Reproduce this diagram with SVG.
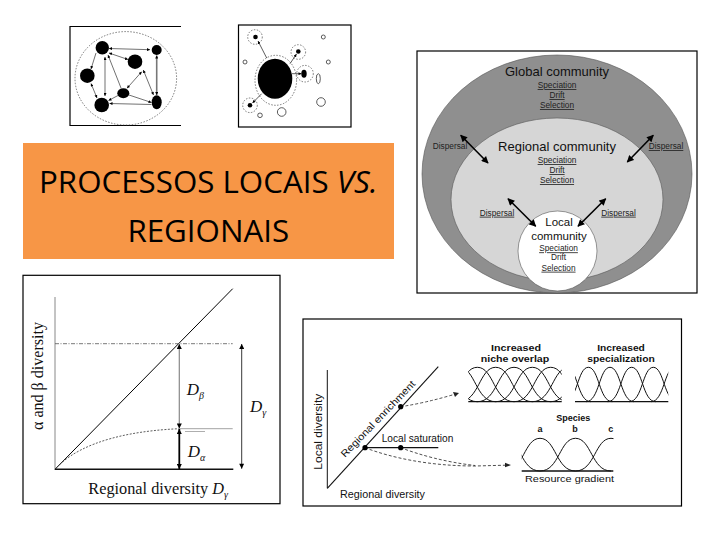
<svg xmlns="http://www.w3.org/2000/svg" width="720" height="540" viewBox="0 0 720 540">
<style>
.frame{fill:none;stroke:#000;stroke-width:1.2}
.thin{fill:none;stroke:#333;stroke-width:0.7}
.dash{fill:none;stroke:#444;stroke-width:0.7;stroke-dasharray:1.5 1.5}
.blob{fill:#000}
.open{fill:#fff;stroke:#333;stroke-width:0.8}
.sans{font-family:"Liberation Sans",Arial,sans-serif}
.serif{font-family:"Liberation Serif","Times New Roman",serif}
.lbl{font-family:"Liberation Sans",Arial,sans-serif;font-size:8.3px;fill:#222;text-anchor:middle}
.u{text-decoration:underline}
.hd{font-family:"Liberation Sans",Arial,sans-serif;font-size:13px;fill:#111;text-anchor:middle}
.dbl{stroke:#000;stroke-width:1.6;fill:none;marker-start:url(#mBig);marker-end:url(#mBig)}
.hump{fill:none;stroke:#111;stroke-width:1}
.pl{font-family:"Liberation Sans",Arial,sans-serif;font-size:9px;font-weight:bold;fill:#111;text-anchor:middle}
</style>
<defs>
<marker id="mBig" viewBox="0 0 10 10" refX="9" refY="5" markerWidth="8" markerHeight="7" markerUnits="userSpaceOnUse" orient="auto-start-reverse"><path d="M0,0 L10,5 L0,10 z" fill="#000"/></marker>
<marker id="mMid" viewBox="0 0 10 10" refX="10" refY="5" markerWidth="6" markerHeight="5" markerUnits="userSpaceOnUse" orient="auto-start-reverse"><path d="M0,0 L10,5 L0,10 z" fill="#000"/></marker>
<marker id="mSm" viewBox="0 0 10 10" refX="10" refY="5" markerWidth="3.5" markerHeight="3" markerUnits="userSpaceOnUse" orient="auto-start-reverse"><path d="M0,0 L10,5 L0,10 z" fill="#000"/></marker>
<clipPath id="c1"><rect x="468.3" y="360" width="93.4" height="45"/></clipPath>
<clipPath id="c2"><rect x="575" y="360" width="93.3" height="45"/></clipPath>
<clipPath id="c3"><rect x="521.7" y="430" width="91.8" height="45"/></clipPath>
</defs>
<rect width="720" height="540" fill="#fff"/>

<!-- Image 1: network -->
<g id="img-network">
<path class="frame" d="M181,26.5 H70 V125.5 H181"/>
<ellipse class="dash" cx="125.8" cy="78.3" rx="50.8" ry="46.7"/>
<g stroke="#333" stroke-width="0.7" fill="none">
<line x1="109" y1="48.5" x2="150" y2="49.7" marker-start="url(#mSm)" marker-end="url(#mSm)"/>
<line x1="96" y1="53" x2="91" y2="69" marker-end="url(#mSm)"/>
<line x1="105" y1="57" x2="105" y2="96" marker-start="url(#mSm)" marker-end="url(#mSm)"/>
<line x1="109" y1="53" x2="128" y2="59.5" marker-start="url(#mSm)" marker-end="url(#mSm)"/>
<line x1="108" y1="55" x2="121" y2="88" marker-start="url(#mSm)"/>
<line x1="141.7" y1="71.7" x2="127" y2="88.3" marker-start="url(#mSm)" marker-end="url(#mSm)"/>
<line x1="143.3" y1="70" x2="153.5" y2="95" marker-start="url(#mSm)" marker-end="url(#mSm)"/>
<line x1="129" y1="95" x2="151.5" y2="102.5" marker-end="url(#mSm)"/>
<line x1="151.5" y1="104.5" x2="109.5" y2="103.5" marker-end="url(#mSm)"/>
<line x1="91" y1="83.5" x2="97" y2="98" marker-start="url(#mSm)" marker-end="url(#mSm)"/>
<line x1="118" y1="95.5" x2="108.5" y2="100.5" marker-end="url(#mSm)"/>
</g>
<line x1="156.7" y1="55.5" x2="156.7" y2="95" stroke="#777" stroke-width="1.6" marker-start="url(#mSm)" marker-end="url(#mSm)"/>
<circle class="blob" cx="102.3" cy="47.7" r="6.7"/>
<circle class="blob" cx="156.7" cy="50" r="5"/>
<circle class="blob" cx="135" cy="61.7" r="7.3"/>
<circle class="blob" cx="87.3" cy="75.7" r="7.3"/>
<ellipse class="blob" cx="123.3" cy="93.3" rx="6" ry="5"/>
<circle class="blob" cx="101.7" cy="105" r="7.3"/>
<ellipse class="blob" cx="156.7" cy="102.3" rx="5" ry="7"/>
</g>

<!-- Image 2: mainland/islands -->
<g id="img-islands">
<rect class="frame" x="238.5" y="25" width="112.5" height="102"/>
<ellipse class="dash" cx="275.8" cy="80.3" rx="20.8" ry="25"/>
<ellipse class="blob" cx="275" cy="78.7" rx="17.3" ry="20"/>
<circle class="dash" cx="255" cy="37" r="7.3"/>
<circle class="blob" cx="255.5" cy="37" r="2.3"/>
<circle class="dash" cx="298.3" cy="52" r="7.3"/>
<circle class="blob" cx="298.3" cy="51.5" r="2.3"/>
<circle class="dash" cx="305" cy="73.7" r="8.3"/>
<ellipse class="blob" cx="304" cy="73.7" rx="2.7" ry="4"/>
<circle class="dash" cx="250" cy="105.3" r="7.3"/>
<circle class="blob" cx="250" cy="105.3" r="2.3"/>
<g stroke="#333" stroke-width="0.8">
<line x1="266.7" y1="58" x2="258" y2="41" marker-end="url(#mSm)"/>
<line x1="290" y1="63.7" x2="296.5" y2="54" marker-end="url(#mSm)"/>
<line x1="292" y1="73.7" x2="301.5" y2="73.7" marker-end="url(#mSm)"/>
<line x1="261.7" y1="93.7" x2="252.5" y2="103" marker-end="url(#mSm)"/>
</g>
<circle class="open" cx="323.3" cy="37" r="2"/>
<circle class="open" cx="245" cy="62" r="2"/>
<circle class="open" cx="328.3" cy="62" r="2"/>
<ellipse class="open" cx="318.3" cy="78.7" rx="2" ry="5"/>
<circle class="open" cx="321" cy="102" r="4.3"/>
<circle class="open" cx="281.7" cy="112" r="4.3"/>
<circle class="open" cx="260" cy="115.3" r="2.3"/>
</g>

<!-- Title box -->
<g id="title">
<rect x="23" y="143" width="371" height="116" fill="#F79646"/>
<text x="208.3" y="193.3" font-family="'Open Sans','Liberation Sans',sans-serif" font-size="31.3" fill="#000" text-anchor="middle">PROCESSOS LOCAIS <tspan font-style="italic">VS.</tspan></text>
<text x="208.3" y="241.7" font-family="'Open Sans','Liberation Sans',sans-serif" font-size="31.3" fill="#000" text-anchor="middle">REGIONAIS</text>
</g>

<!-- Nested communities -->
<g id="communities">
<rect class="frame" x="417" y="51" width="280" height="242" stroke-width="1"/>
<ellipse cx="557" cy="174" rx="135" ry="119" fill="#8f8f8f" stroke="#555" stroke-width="0.6"/>
<ellipse cx="557" cy="199.5" rx="106" ry="81.5" fill="#d6d6d6" stroke="#555" stroke-width="0.6"/>
<ellipse cx="557.5" cy="251" rx="39.5" ry="40" fill="#fff" stroke="#555" stroke-width="0.6"/>
<text class="hd" x="557" y="76">Global community</text>
<text class="lbl u" x="557" y="88">Speciation</text>
<text class="lbl u" x="557" y="98">Drift</text>
<text class="lbl u" x="557" y="108">Selection</text>
<text class="hd" x="557" y="151.3">Regional community</text>
<text class="lbl u" x="557" y="163">Speciation</text>
<text class="lbl u" x="557" y="173">Drift</text>
<text class="lbl u" x="557" y="183">Selection</text>
<text class="sans" x="559" y="226.3" font-size="11.5" fill="#111" text-anchor="middle">Local</text>
<text class="sans" x="559" y="239.7" font-size="11.5" fill="#111" text-anchor="middle">community</text>
<text class="lbl u" x="558.5" y="251.3">Speciation</text>
<text class="lbl" x="558.5" y="260.3">Drift</text>
<text class="lbl u" x="558.5" y="270.7">Selection</text>
<text class="lbl" x="450" y="149">Dispersal</text>
<text class="lbl u" x="666" y="149">Dispersal</text>
<text class="lbl u" x="497" y="215.7">Dispersal</text>
<text class="lbl u" x="618.5" y="215.7">Dispersal</text>
<g id="dispersal-arrows">
<line class="dbl" x1="460.7" y1="135.3" x2="488" y2="163"/>
<line class="dbl" x1="653.3" y1="135.3" x2="627.3" y2="162"/>
<line class="dbl" x1="508" y1="198.7" x2="535.7" y2="226.3"/>
<line class="dbl" x1="605.7" y1="198.7" x2="578" y2="226.3"/>
</g>
</g>

<!-- Alpha/beta graph -->
<g id="graph-alpha-beta">
<rect class="frame" x="23" y="275.3" width="257" height="228.4" stroke-width="1"/>
<line x1="55" y1="297" x2="55" y2="469.3" stroke="#888" stroke-width="1"/>
<line x1="55" y1="469.3" x2="233.3" y2="469.3" stroke="#111" stroke-width="1.4"/>
<line x1="55" y1="469.3" x2="232.7" y2="288.7" stroke="#000" stroke-width="1"/>
<line x1="55" y1="343.7" x2="232.7" y2="343.7" stroke="#555" stroke-width="0.8" stroke-dasharray="4 1.5 1 1.5"/>
<path d="M55,469.3 C70,452 105,432 179.3,428.7" fill="none" stroke="#333" stroke-width="0.8" stroke-dasharray="2 1.5"/>
<line x1="179.3" y1="428.7" x2="232.7" y2="428.7" stroke="#999" stroke-width="0.9"/>
<line x1="185" y1="431.5" x2="205" y2="431.5" stroke="#999" stroke-width="0.8"/>
<line x1="179.3" y1="344" x2="179.3" y2="428.5" stroke="#888" stroke-width="1.2" marker-start="url(#mMid)" marker-end="url(#mMid)"/>
<line x1="179.3" y1="429" x2="179.3" y2="469" stroke="#000" stroke-width="1.8" marker-start="url(#mMid)" marker-end="url(#mMid)"/>
<line x1="241.7" y1="344" x2="241.7" y2="468.7" stroke="#222" stroke-width="0.9" marker-start="url(#mMid)" marker-end="url(#mMid)"/>
<text class="serif" x="186.7" y="395.3" font-size="17" font-style="italic" fill="#111">D<tspan font-size="10" dy="4">β</tspan></text>
<text class="serif" x="250" y="412" font-size="17" font-style="italic" fill="#111">D<tspan font-size="10" dy="4">γ</tspan></text>
<text class="serif" x="187.7" y="457" font-size="17" font-style="italic" fill="#111">D<tspan font-size="10" dy="4">α</tspan></text>
<text class="serif" transform="translate(43.3,376) rotate(-90)" font-size="16" fill="#111" text-anchor="middle" textLength="108" lengthAdjust="spacingAndGlyphs">α and β diversity</text>
<text class="serif" x="88.3" y="493.7" font-size="16.3" fill="#111">Regional diversity <tspan font-style="italic">D</tspan><tspan font-style="italic" font-size="10" dy="4">γ</tspan></text>
</g>

<!-- Local vs regional graph -->
<g id="graph-local-regional">
<rect class="frame" x="303" y="319" width="378.5" height="187" stroke-width="1"/>
<line x1="327.3" y1="370" x2="327.3" y2="488.3" stroke="#111" stroke-width="1"/>
<line x1="327.3" y1="488.3" x2="438.3" y2="366.7" stroke="#111" stroke-width="1.1"/>
<line x1="365" y1="447.7" x2="438.3" y2="447.7" stroke="#111" stroke-width="1.3"/>
<g fill="none" stroke="#222" stroke-width="0.8" stroke-dasharray="3 2">
<path d="M400.7,406.7 Q425,403 454,394.5"/>
<path d="M365,447.7 C392,458 430,466 475,466 L506,465.2"/>
<path d="M400.7,447.7 C420,455 445,462 475,465.5"/>
</g>
<path d="M453,392 L459,393 L455,397 z" fill="#222"/>
<path d="M505,462.8 L511,465 L505,467.3 z" fill="#222"/>
<circle class="blob" cx="400.7" cy="406.7" r="2.6"/>
<circle class="blob" cx="365" cy="447.7" r="2.6"/>
<circle class="blob" cx="400.7" cy="447.7" r="2.6"/>
<text class="sans" x="381.7" y="441.7" font-size="10" fill="#111" textLength="71.6" lengthAdjust="spacingAndGlyphs">Local saturation</text>
<text class="sans" transform="translate(345,458) rotate(-46)" font-size="10" fill="#111" textLength="102" lengthAdjust="spacingAndGlyphs">Regional enrichment</text>
<text class="sans" transform="translate(321.7,431.7) rotate(-90)" font-size="10.5" fill="#111" text-anchor="middle" textLength="76" lengthAdjust="spacingAndGlyphs">Local diversity</text>
<text class="sans" x="340" y="498.3" font-size="10.5" fill="#111" textLength="85" lengthAdjust="spacingAndGlyphs">Regional diversity</text>

<text class="pl" x="516" y="350.7" textLength="50" lengthAdjust="spacingAndGlyphs">Increased</text>
<text class="pl" x="515" y="361.7" textLength="68.6" lengthAdjust="spacingAndGlyphs">niche overlap</text>
<text class="pl" x="621" y="350.7" textLength="47.7" lengthAdjust="spacingAndGlyphs">Increased</text>
<text class="pl" x="621" y="361.7" textLength="67.7" lengthAdjust="spacingAndGlyphs">specialization</text>
<g clip-path="url(#c1)">
<path class="hump" d="M403.9,401.7 C424.1,401.7 424.1,367.3 440.6,367.3 C457.1,367.3 457.1,401.7 477.3,401.7 M422.3,401.7 C442.5,401.7 442.5,367.3 459,367.3 C475.5,367.3 475.5,401.7 495.7,401.7 M440.6,401.7 C460.8,401.7 460.8,367.3 477.3,367.3 C493.8,367.3 493.8,401.7 514,401.7 M459,401.7 C479.2,401.7 479.2,367.3 495.7,367.3 C512.2,367.3 512.2,401.7 532.4,401.7 M477.3,401.7 C497.5,401.7 497.5,367.3 514,367.3 C530.5,367.3 530.5,401.7 550.7,401.7 M495.6,401.7 C515.8,401.7 515.8,367.3 532.3,367.3 C548.8,367.3 548.8,401.7 569,401.7 M514,401.7 C534.2,401.7 534.2,367.3 550.7,367.3 C567.2,367.3 567.2,401.7 587.4,401.7 M532.3,401.7 C552.5,401.7 552.5,367.3 569,367.3 C585.5,367.3 585.5,401.7 605.7,401.7 M550.6,401.7 C570.8,401.7 570.8,367.3 587.3,367.3 C603.8,367.3 603.8,401.7 624,401.7"/>
</g>
<line x1="468.3" y1="401.7" x2="561.7" y2="401.7" stroke="#111" stroke-width="1.2"/>
<g clip-path="url(#c2)">
<path class="hump" d="M542.7,401.7 C555.9,401.7 555.9,367.3 566.7,367.3 C577.5,367.3 577.5,401.7 590.7,401.7 M564.3,401.7 C577.5,401.7 577.5,367.3 588.3,367.3 C599.1,367.3 599.1,401.7 612.3,401.7 M586,401.7 C599.2,401.7 599.2,367.3 610,367.3 C620.8,367.3 620.8,401.7 634,401.7 M607.7,401.7 C620.9,401.7 620.9,367.3 631.7,367.3 C642.5,367.3 642.5,401.7 655.7,401.7 M629.3,401.7 C642.5,401.7 642.5,367.3 653.3,367.3 C664.1,367.3 664.1,401.7 677.3,401.7 M651,401.7 C664.2,401.7 664.2,367.3 675,367.3 C685.8,367.3 685.8,401.7 699,401.7"/>
</g>
<line x1="575" y1="401.7" x2="668.3" y2="401.7" stroke="#111" stroke-width="1.2"/>
<text class="pl" x="573.3" y="420.7">Species</text>
<text class="pl" x="540" y="431.7">a</text>
<text class="pl" x="575" y="431.7">b</text>
<text class="pl" x="610.7" y="431.7">c</text>
<g clip-path="url(#c3)">
<path class="hump" d="M469,471 C488.5,471 488.5,438.3 504.5,438.3 C520.5,438.3 520.5,471 540,471 M504.5,471 C524,471 524,438.3 540,438.3 C556,438.3 556,471 575.5,471 M540,471 C559.5,471 559.5,438.3 575.5,438.3 C591.5,438.3 591.5,471 611,471 M575.5,471 C595,471 595,438.3 611,438.3 C627,438.3 627,471 646.5,471"/>
</g>
<line x1="521.7" y1="471" x2="613.3" y2="471" stroke="#111" stroke-width="1.5"/>
<text class="sans" x="569.5" y="481.7" font-size="9.5" fill="#111" text-anchor="middle" textLength="89" lengthAdjust="spacingAndGlyphs">Resource gradient</text>
</g>
</svg>
